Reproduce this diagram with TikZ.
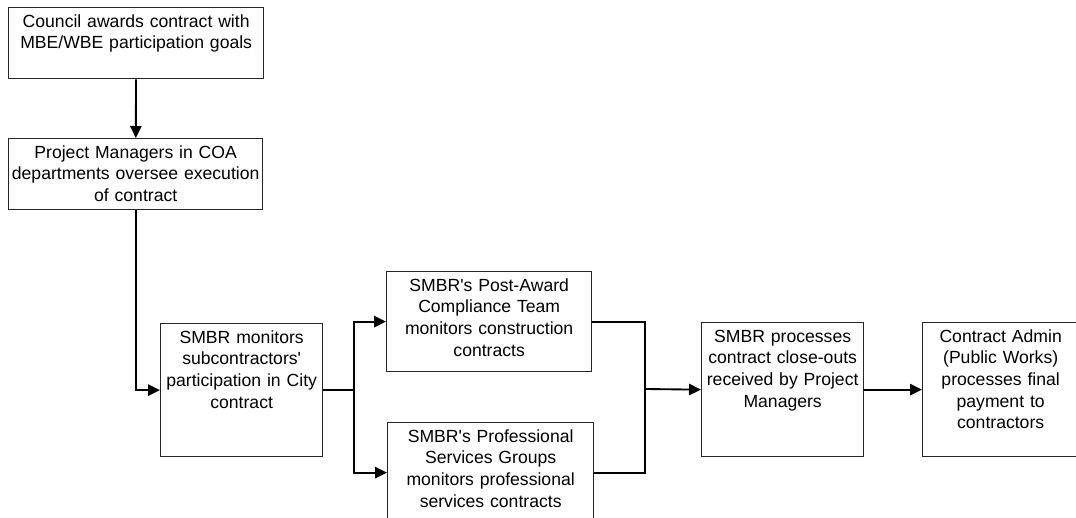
\documentclass[tikz,border=0pt]{standalone}
\usepackage{fontspec}
\setmainfont{Liberation Sans}
\usetikzlibrary{arrows.meta}

\begin{document}
\begin{tikzpicture}[x=0.75pt, y=-0.75pt,
  stepbox/.style 2 args={draw=black!85, line width=1pt, inner sep=0pt, anchor=north west,
    text width=#1, align=center, text height=14.5pt, text depth=#2,
    font=\fontsize{13.2}{16.3}\selectfont},
  flow/.style={line width=1.4pt, -{Triangle[length=9pt,width=8.5pt]}},
  link/.style={line width=1.4pt}]
\useasboundingbox (0,0) rectangle (1076,518);
% boxes, placed at their top left corner (pixel units)
\node[stepbox={191.25pt}{38.75pt}] (council) at (8,7) {Council awards contract with\\MBE/WBE participation goals};
\node[stepbox={190.5pt}{38.75pt}] (project) at (8,138) {Project Managers in COA\\departments oversee execution\\of contract};
\node[stepbox={121.5pt}{85.25pt}] (monitor) at (160,323) {SMBR monitors\\subcontractors\textquotesingle\\participation in City\\contract};
\node[stepbox={153.75pt}{60.5pt}] (post) at (386,271) {SMBR\textquotesingle s Post-Award\\Compliance Team\\monitors construction\\contracts};
\node[stepbox={154.5pt}{60.5pt}] (prof) at (387,422) {SMBR\textquotesingle s Professional\\Services Groups\\monitors professional\\services contracts};
\node[stepbox={121.5pt}{86pt}] (close) at (701,322) {SMBR processes\\contract close-outs\\received by Project\\Managers};
\node[stepbox={117pt}{86pt}] (admin) at (922,322) {Contract Admin\\(Public Works)\\processes final\\payment to\\contractors};
% connectors
\draw[flow] (council) -- (project);
\draw[flow] (project.south) |- (monitor.west);
\draw[flow] (monitor.east) -- ++(31,0) |- (post.west);
\draw[flow] (monitor.east) -- ++(31,0) |- (prof.west);
\coordinate (merge) at (645,389);
\draw[link] (post.east) -| (merge);
\draw[link] (prof.east) -| (merge);
\draw[flow] (merge) -- (close.west);
\draw[flow] (close) -- (admin);
\end{tikzpicture}
\end{document}
